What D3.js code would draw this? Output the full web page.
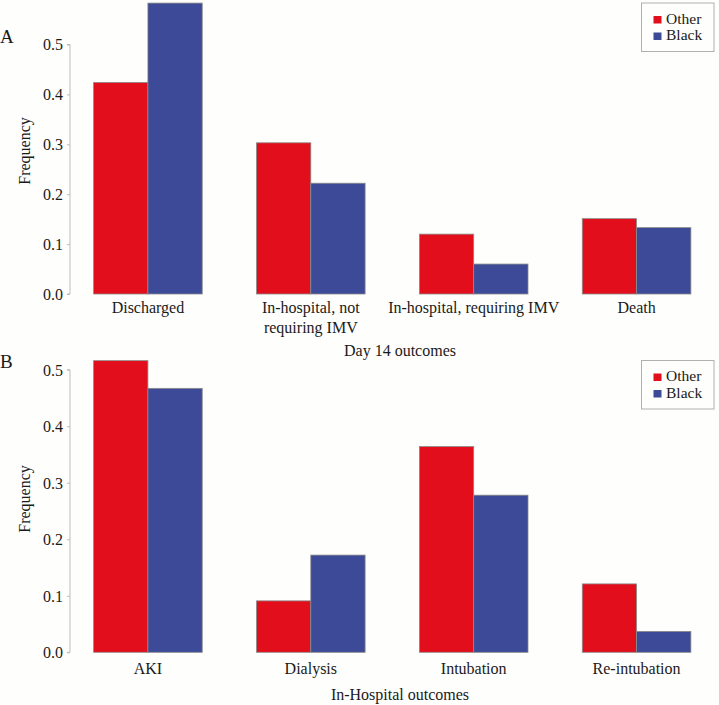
<!DOCTYPE html>
<html><head><meta charset="utf-8">
<script src="https://cdn.jsdelivr.net/npm/d3@7"></script>
</head>
<body style="margin:0;background:#fefefc">
<script>
// ---- data ----
const seriesNames = ["Other", "Black"];
const seriesColors = ["#e20e1b", "#3c4a97"];

const catsA = ["Discharged", "In-hospital, not\nrequiring IMV", "In-hospital, requiring IMV", "Death"];
const otherA = [0.424, 0.303, 0.120, 0.151];
const blackA = [0.583, 0.222, 0.060, 0.133];

const catsB = ["AKI", "Dialysis", "Intubation", "Re-intubation"];
const otherB = [0.516, 0.091, 0.364, 0.121];
const blackB = [0.467, 0.172, 0.278, 0.037];

const yTicks = [0.0, 0.1, 0.2, 0.3, 0.4, 0.5];
const yTickLabels = ["0.0", "0.1", "0.2", "0.3", "0.4", "0.5"];

const FONT = '"Liberation Serif", "Times New Roman", Times';
const TXT = "#1a1a1a";
const W = 719, H = 705;
const svg = d3.select("body").append("svg").attr("width", W).attr("height", H)
  .style("display", "block").attr("font-family", "Liberation Serif");

function txt(sel, size) {
  return sel.attr("font-family", "Liberation Serif").style("font-family", FONT)
    .attr("font-size", size).attr("fill", TXT);
}

function panel(opts) {
  const {cats, other, black, y0, y5, letter, letterY, xTitle, xTitleY, yTitleY, legendY, labelY} = opts;
  const g = svg.append("g");
  const x = d3.scaleBand().domain(cats).range([70, 714.5]).paddingInner(1/3).paddingOuter(0.145);
  const xs = d3.scaleBand().domain(seriesNames).range([0, x.bandwidth()]);
  const y = d3.scaleLinear().domain([0, 0.5]).range([y0, y5]);

  const data = cats.map((c, i) => ({cat: c, vals: [other[i], black[i]]}));
  const grp = g.selectAll("g.grp").data(data).join("g")
    .attr("transform", d => `translate(${x(d.cat)},0)`);
  grp.selectAll("rect").data(d => d.vals.map((v, k) => ({v, k}))).join("rect")
    .attr("x", d => xs(seriesNames[d.k]))
    .attr("width", xs.bandwidth())
    .attr("y", d => y(d.v))
    .attr("height", d => y(0) - y(d.v))
    .attr("fill", d => seriesColors[d.k])
    .attr("stroke", "#8a8a8a").attr("stroke-width", 0.8);

  // y axis (R style)
  const ax = g.append("g").attr("transform", "translate(70,0)")
    .call(d3.axisLeft(y).tickValues(yTicks).tickFormat((d, i) => yTickLabels[i]).tickSize(3).tickPadding(4));
  ax.attr("font-family", "Liberation Serif").attr("font-size", 16);
  ax.select(".domain").attr("stroke", "#bdbdbd").attr("d", `M-3,${y(0)}H0V${y(0.5)}H-3`);
  ax.selectAll(".tick line").attr("stroke", "#bdbdbd");
  txt(ax.selectAll(".tick text"), 16).attr("dy", "0.34em");

  // x labels
  data.forEach(d => {
    const lines = d.cat.split("\n");
    lines.forEach((ln, j) => {
      txt(g.append("text"), 16).attr("x", x(d.cat) + x.bandwidth() / 2).attr("y", labelY + j * 20)
        .attr("text-anchor", "middle").text(ln);
    });
  });

  txt(g.append("text"), 16).attr("x", 400).attr("y", xTitleY).attr("text-anchor", "middle").text(xTitle);
  txt(g.append("text"), 16).attr("transform", `translate(30,${yTitleY}) rotate(-90)`)
    .attr("text-anchor", "middle").text("Frequency");
  txt(g.append("text"), 19).attr("x", 0).attr("y", letterY).text(letter);

  // legend
  const lg = g.append("g").attr("transform", `translate(641.5,${legendY})`);
  lg.append("rect").attr("width", 72.5).attr("height", 48.5).attr("fill", "#fefefc")
    .attr("stroke", "#b0b0b0").attr("stroke-width", 1);
  seriesNames.forEach((s, i) => {
    lg.append("rect").attr("x", 12).attr("y", 13 + i * 16.5).attr("width", 8).attr("height", 7.5)
      .attr("fill", seriesColors[i]);
    txt(lg.append("text"), 15.5).attr("x", 24.5).attr("y", 20.5 + i * 16.5).text(s);
  });
}

panel({cats: catsA, other: otherA, black: blackA, y0: 294, y5: 44.5,
  letter: "A", letterY: 43, xTitle: "Day 14 outcomes", xTitleY: 355.5, yTitleY: 151,
  legendY: 3, labelY: 313});
panel({cats: catsB, other: otherB, black: blackB, y0: 652.3, y5: 369.7,
  letter: "B", letterY: 368, xTitle: "In-Hospital outcomes", xTitleY: 699.5, yTitleY: 499,
  legendY: 360.5, labelY: 674});
</script>
</body></html>
